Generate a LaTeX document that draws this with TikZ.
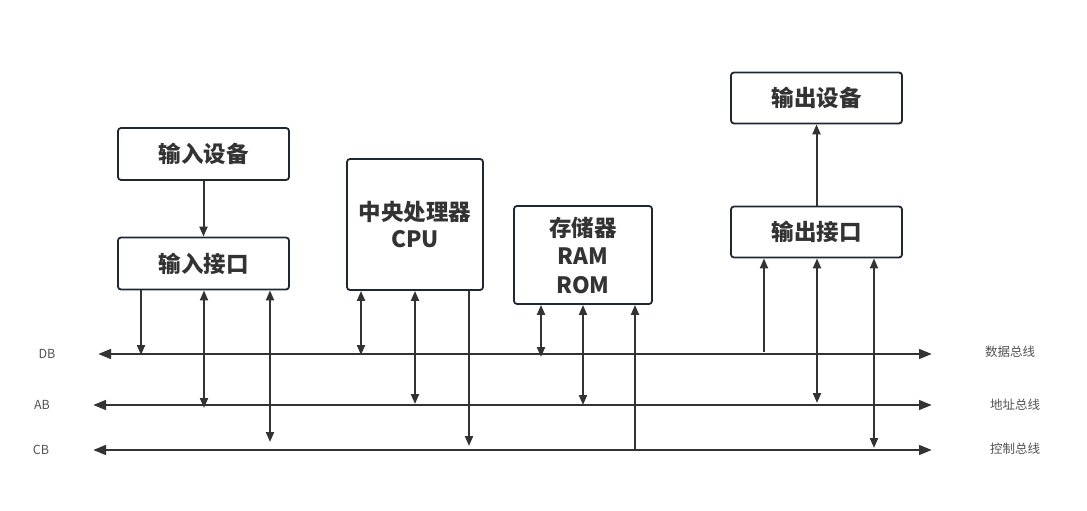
\documentclass[tikz,border=0pt]{standalone}
\usepackage{fontspec}
\usetikzlibrary{arrows.meta}
\newfontfamily\cjk{Noto Sans CJK SC}
\definecolor{ink}{HTML}{333333}
\definecolor{frame}{HTML}{1E2833}
\tikzset{unit/.style = {draw=frame,line width=1.8pt,rounded corners=3pt,align=center,text=ink,
  font=\cjk\bfseries\fontsize{22.5}{27}\selectfont}}
\tikzset{link/.style = {draw=ink,line width=2pt,-{Triangle[length=10pt,width=8pt]}}}
\tikzset{duplex/.style = {link,{Triangle[length=10pt,width=8pt]}-{Triangle[length=10pt,width=8pt]}}}
\tikzset{bus/.style = {draw=ink,line width=2.8pt,{Triangle[length=13pt,width=9.5pt]}-{Triangle[length=13pt,width=9.5pt]}}}
\tikzset{tag/.style = {text=ink!85,font=\cjk\fontsize{12.5}{14}\selectfont}}

\begin{document}
\begin{tikzpicture}[x=1pt,y=-1pt]
      \useasboundingbox (0,0) rectangle (1087,511);
      \node[unit,minimum width=171pt,minimum height=52pt] (indev) at (203.5,154) {输入设备};
      \node[unit,minimum width=171pt,minimum height=52pt] (inif) at (203.5,263.5) {输入接口};
      \node[unit,minimum width=136pt,minimum height=131pt] (cpu) at (415,224.5) {中央处理器\\CPU};
      \node[unit,minimum width=138pt,minimum height=98pt] (mem) at (583,255) {存储器\\[1.5pt]RAM\\[1.5pt]ROM};
      \node[unit,minimum width=171pt,minimum height=51pt] (outdev) at (816.5,98) {输出设备};
      \node[unit,minimum width=171pt,minimum height=51pt] (outif) at (816.5,232) {输出接口};

      % buses
      \coordinate (dbl) at (98,354);  \coordinate (dbr) at (932,354);
      \coordinate (abl) at (93,405);  \coordinate (abr) at (932,405);
      \coordinate (cbl) at (93,450);  \coordinate (cbr) at (932,450);
      \draw[bus] (dbl) -- (dbr);
      \draw[bus] (abl) -- (abr);
      \draw[bus] (cbl) -- (cbr);
      \node[tag] (db) at (47,354) {DB};
      \node[tag] (ab) at (42,405) {AB};
      \node[tag] (cb) at (41,450) {CB};
      \node[tag] (dbname) at (1010,352) {数据总线};
      \node[tag] (abname) at (1015,405) {地址总线};
      \node[tag] (cbname) at (1015,449) {控制总线};

      % taps on the buses
      \coordinate (t1) at (141,355);  \coordinate (t2) at (204,408);  \coordinate (t3) at (270,442);
      \coordinate (t4) at (361,355);  \coordinate (t5) at (415,404);  \coordinate (t6) at (469,446);
      \coordinate (t7) at (541,357);  \coordinate (t8) at (583,405);  \coordinate (t9) at (635,450);
      \coordinate (t10) at (764,352); \coordinate (t11) at (817,403); \coordinate (t12) at (874,448);

      \draw[link] (indev) -- (inif);
      \draw[link] (outif) -- (outdev);
      \draw[link] (inif.south -| t1) -- (t1);
      \draw[duplex] (inif.south -| t2) -- (t2);
      \draw[duplex] (inif.south -| t3) -- (t3);
      \draw[duplex] (cpu.south -| t4) -- (t4);
      \draw[duplex] (cpu.south -| t5) -- (t5);
      \draw[link] (cpu.south -| t6) -- (t6);
      \draw[duplex] (mem.south -| t7) -- (t7);
      \draw[duplex] (mem.south -| t8) -- (t8);
      \draw[link] (t9) -- (mem.south -| t9);
      \draw[link] (t10) -- (outif.south -| t10);
      \draw[duplex] (outif.south -| t11) -- (t11);
      \draw[duplex] (outif.south -| t12) -- (t12);
    \end{tikzpicture}
\end{document}
